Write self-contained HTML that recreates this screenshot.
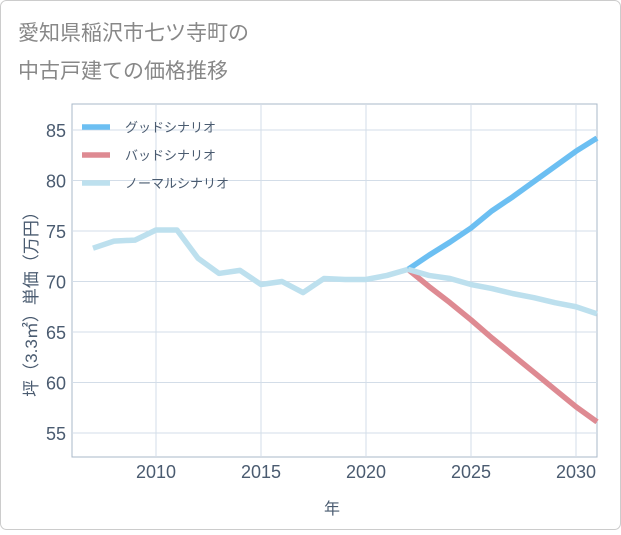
<!DOCTYPE html>
<html><head><meta charset="utf-8"><style>
html,body{margin:0;padding:0;background:#fff;}
body{width:621px;height:530px;overflow:hidden;font-family:"Liberation Sans","Noto Sans CJK JP",sans-serif;}
</style></head><body>
<svg id="chart" width="621" height="530" xmlns="http://www.w3.org/2000/svg">
<rect x="0.5" y="0.5" width="620" height="529" rx="6" fill="#fff" stroke="#ccc"/>
<text x="18" y="40" font-size="21" fill="#888" font-family="Liberation Sans, Noto Sans CJK JP, sans-serif">愛知県稲沢市七ツ寺町の</text>
<text x="18" y="78" font-size="21" fill="#888" font-family="Liberation Sans, Noto Sans CJK JP, sans-serif">中古戸建ての価格推移</text>
<rect x="72" y="104" width="525" height="353" fill="none" stroke="#aab8c8"/>
<g id="grid"></g><g id="series"></g>
<text x="332" y="514" font-size="16" fill="#4a5b70" text-anchor="middle" font-family="Liberation Sans, Noto Sans CJK JP, sans-serif">年</text>
<text transform="translate(37,300) rotate(-90)" font-size="17" fill="#4a5b70" text-anchor="middle" font-family="Liberation Sans, Noto Sans CJK JP, sans-serif">坪（3.3㎡）単価（万円）</text>
<g id="legend"></g>
</svg>
<script>
const years=[2007,2008,2009,2010,2011,2012,2013,2014,2015,2016,2017,2018,2019,2020,2021,2022];
const history=[73.3,74.0,74.1,75.1,75.1,72.3,70.8,71.1,69.7,70.0,68.9,70.3,70.2,70.2,70.6,71.2];
const futureYears=[2022,2023,2024,2025,2026,2027,2028,2029,2030,2031];
const good=[71.2,72.6,73.9,75.3,77.0,78.4,79.9,81.4,82.9,84.2];
const bad=[71.2,69.5,67.9,66.2,64.4,62.7,61.0,59.3,57.6,56.1];
const normal=[71.2,70.6,70.3,69.7,69.3,68.8,68.4,67.9,67.5,66.8];
const yTicks=[55,60,65,70,75,80,85];
const xTicks=[2010,2015,2020,2025,2030];
const NS="http://www.w3.org/2000/svg";
const X=y=>156+(y-2010)*21;
const Y=v=>433-(v-55)*(303/30);
function mk(t,a,p){const e=document.createElementNS(NS,t);for(const k in a)e.setAttribute(k,a[k]);p.appendChild(e);return e;}
const grid=document.getElementById('grid');
yTicks.forEach(v=>{
 const l=mk('line',{x1:72,x2:597,y1:Y(v),y2:Y(v),stroke:'#d3dde8'},grid);
 
 
 const t=mk('text',{x:66,y:Y(v)+7,'font-size':18,fill:'#4a5b70','text-anchor':'end'},grid);t.textContent=v;
 
 
});
xTicks.forEach(v=>{
 const l=mk('line',{x1:X(v),x2:X(v),y1:104,y2:457,stroke:'#d3dde8'},grid);
 
 
 const t=mk('text',{x:X(v),y:478,'font-size':18,fill:'#4a5b70','text-anchor':'middle'},grid);t.textContent=v;
 
 
});
const ser=document.getElementById('series');
function line(xs,vs,c,name){
 const p=mk('polyline',{points:xs.map((x,i)=>X(x)+','+Y(vs[i])).join(' '),fill:'none',stroke:c,'stroke-width':5.5,'stroke-linejoin':'round'},ser);
 
 
}
line(futureYears,good,'#6cbff2','good-scenario-line');
line(futureYears,bad,'#de8a92','bad-scenario-line');
line(futureYears,normal,'#bde0ee','normal-scenario-line');
line(years,history,'#bde0ee','history-line');
const lg=document.getElementById('legend');
[['グッドシナリオ','#6cbff2'],['バッドシナリオ','#de8a92'],['ノーマルシナリオ','#bde0ee']].forEach((d,i)=>{
 const y=127+i*28;
 const r=mk('line',{x1:82,x2:110,y1:y,y2:y,stroke:d[1],'stroke-width':5.5},lg);
 
 
 const t=mk('text',{x:125,y:y+5,'font-size':13,fill:'#4a5b70'},lg);t.textContent=d[0];
 
 
});
</script>
</body></html>
